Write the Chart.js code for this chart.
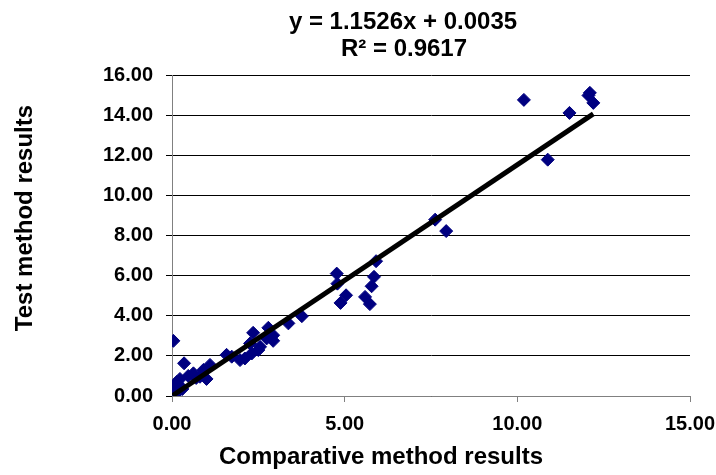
<!DOCTYPE html>
<html>
<head>
<meta charset="utf-8">
<script src="https://cdn.jsdelivr.net/npm/chart.js@4"></script>
<style>
  html, body { margin: 0; padding: 0; background: #fff; }
  #chart { display: block; }
</style>
</head>
<body>
<canvas id="chart" width="716" height="475"></canvas>
<script>
// trendline from the spreadsheet
const slope = 1.1526;
const intercept = 0.0035;
const titleLines = ["y = 1.1526x + 0.0035", "R\u00b2 = 0.9617"];
const xTitle = "Comparative method results";
const yTitle = "Test method results";

// comparative method (x) vs test method (y)
const comparative = [
    10.19, 11.51, 12.10, 12.06, 12.20, 10.88, 7.62, 7.94,
    5.91, 4.77, 4.79, 5.85, 5.78, 5.04, 4.88, 5.59, 5.73,
    3.76, 3.37, 2.35, 2.79, 2.93, 2.93, 2.74, 2.50, 2.31, 2.11, 1.97, 1.58, 1.73, 2.26, 2.55,
    0.04, 0.35, 1.10, 0.91, 0.81, 0.62, 0.47, 0.23, 0.14, 0.04, 0.02, 0.04, 0.14, 0.23, 1.00, 0.08, 0.30, 0.70
];
const testResults = [
    14.76, 14.11, 15.11, 14.98, 14.61, 11.78, 8.79, 8.22,
    6.72, 6.10, 5.60, 5.94, 5.47, 5.02, 4.64, 4.94, 4.58,
    3.98, 3.62, 3.15, 3.40, 3.03, 2.75, 2.87, 2.29, 2.12, 1.87, 1.79, 2.05, 1.96, 2.62, 2.45,
    2.75, 1.63, 1.55, 1.30, 0.96, 1.13, 1.00, 0.85, 0.70, 0.45, 0.30, 0.02, 0.15, 0.50, 0.85, 0.08, 0.35, 0.90
];

const points = comparative.map(function (x, i) { return { x: x, y: testResults[i] }; });
const xMin = Math.min.apply(null, comparative);
const xMax = Math.max.apply(null, comparative);
const trend = [
    { x: xMin, y: slope * xMin + intercept },
    { x: xMax, y: slope * xMax + intercept }
];

const boldFont = '"Liberation Sans", Arial, sans-serif';

// Excel-style texts placed where the original had them
const textPlugin = {
    id: "excelText",
    afterDraw: function (chart) {
        const ctx = chart.ctx;
        ctx.save();
        ctx.fillStyle = "#000";
        ctx.textAlign = "center";
        ctx.textBaseline = "middle";
        ctx.font = "bold 24px " + boldFont;
        ctx.fillText(titleLines[0], 403, 22);
        ctx.fillText(titleLines[1], 404, 49);
        ctx.fillText(xTitle, 381, 457);
        ctx.translate(25, 218);
        ctx.rotate(-Math.PI / 2);
        ctx.fillText(yTitle, 0, 0);
        ctx.restore();
    }
};

new Chart(document.getElementById("chart"), {
    type: "scatter",
    data: {
        datasets: [{
            type: "line",
            label: "Linear trend",
            data: trend,
            borderColor: "#000",
            borderWidth: 5,
            pointRadius: 0,
            fill: false,
            order: 0
        }, {
            label: "Results",
            data: points,
            pointStyle: "rectRot",
            pointRadius: 6.5,
            pointBorderWidth: 1,
            backgroundColor: "#000080",
            borderColor: "#000080",
            order: 1
        }]
    },
    options: {
        responsive: false,
        animation: false,
        layout: { padding: { top: 75, right: 26, left: 0, bottom: 0 } },
        plugins: {
            legend: { display: false },
            tooltip: { enabled: false }
        },
        scales: {
            x: {
                type: "linear",
                min: 0,
                max: 15,
                afterFit: function (scale) {
                    scale.height = 79;
                    scale.paddingLeft = 0;
                    scale.paddingRight = 0;
                },
                ticks: {
                    stepSize: 5,
                    padding: 10,
                    color: "#000",
                    font: { family: boldFont, size: 20, weight: "bold" },
                    callback: function (v) { return v.toFixed(2); }
                },
                grid: { drawOnChartArea: false, color: "#808080", tickLength: 6 },
                border: { color: "#808080" }
            },
            y: {
                min: 0,
                max: 16,
                afterFit: function (scale) { scale.width = 172; },
                ticks: {
                    stepSize: 2,
                    padding: 13,
                    color: "#000",
                    font: { family: boldFont, size: 20, weight: "bold" },
                    callback: function (v) { return v.toFixed(2); }
                },
                grid: { color: "#000", tickLength: 6 },
                border: { color: "#808080" }
            }
        }
    },
    plugins: [textPlugin]
});
</script>
</body>
</html>
